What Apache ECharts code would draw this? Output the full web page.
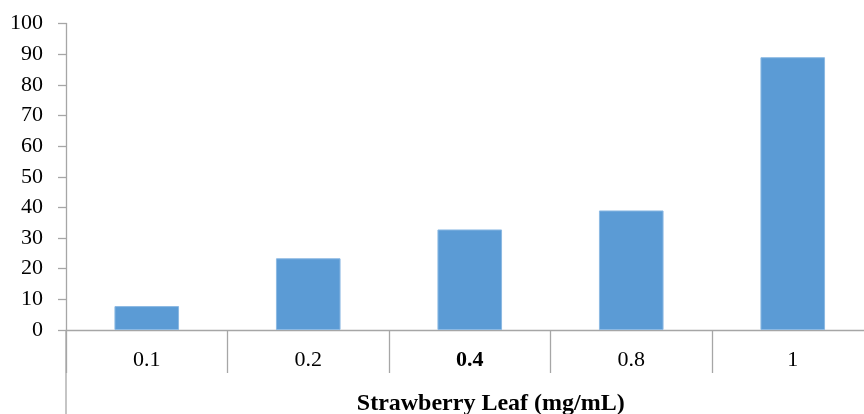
<!DOCTYPE html>
<html><head><meta charset="utf-8">
<script src="https://cdn.jsdelivr.net/npm/echarts@6/dist/echarts.min.js"></script>
<style>html,body{margin:0;padding:0;background:#fff}#c{width:864px;height:414px}</style>
</head><body><div id="c"></div>
<script>
const categories = ['0.1', '0.2', '0.4', '0.8', '1'];
const values = [7.8, 23.4, 32.8, 39.0, 89.0];
const yTicks = {min: 0, max: 100, interval: 10};
const xTitle = 'Strawberry Leaf (mg/mL)';

const font = '"Liberation Serif", "Times New Roman", serif';
const axisColor = '#a6a6a6';
const chart = echarts.init(document.getElementById('c'), null, {renderer: 'canvas'});
chart.setOption({
  animation: false,
  grid: {left: 66, top: 23.5, bottom: 84, width: 807.5, containLabel: false, outerBoundsMode: 'none'},
  xAxis: {
    type: 'category', data: categories, boundaryGap: true,
    axisLine: {show: true, lineStyle: {color: axisColor, width: 1.3}},
    axisTick: {show: true, inside: false, length: 43, alignWithLabel: false, lineStyle: {color: axisColor, width: 1.3}},
    axisLabel: {
      fontFamily: font, fontSize: 22, color: '#000', margin: 19,
      formatter: v => v === '0.4' ? '{b|' + v + '}' : v,
      rich: {b: {fontFamily: font, fontSize: 22, fontWeight: 'bold', color: '#000'}}
    },
    name: xTitle, nameLocation: 'middle', nameGap: 62,
    nameTextStyle: {fontFamily: font, fontSize: 24, fontWeight: 'bold', color: '#000', padding: [0, 0, 0, 42]}
  },
  yAxis: {
    type: 'value', min: yTicks.min, max: yTicks.max, interval: yTicks.interval,
    axisLine: {show: true, lineStyle: {color: axisColor, width: 1.3}},
    axisTick: {show: true, length: 8, lineStyle: {color: axisColor, width: 1.3}},
    splitLine: {show: false},
    axisLabel: {fontFamily: font, fontSize: 22, color: '#000', margin: 23}
  },
  series: [{
    type: 'bar', data: values, barWidth: '40%',
    itemStyle: {color: '#5b9bd5', borderColor: '#8cb9e3', borderWidth: 1}
  }]
});
// extend the y axis line down to the bottom edge, as in the reference
const gridRect = chart.getModel().getComponent('grid').coordinateSystem.getRect();
chart.setOption({
  graphic: [{
    type: 'line', silent: true,
    shape: {x1: gridRect.x, y1: gridRect.y + gridRect.height, x2: gridRect.x, y2: 414},
    style: {stroke: axisColor, lineWidth: 1.3}
  }]
});
</script></body></html>
